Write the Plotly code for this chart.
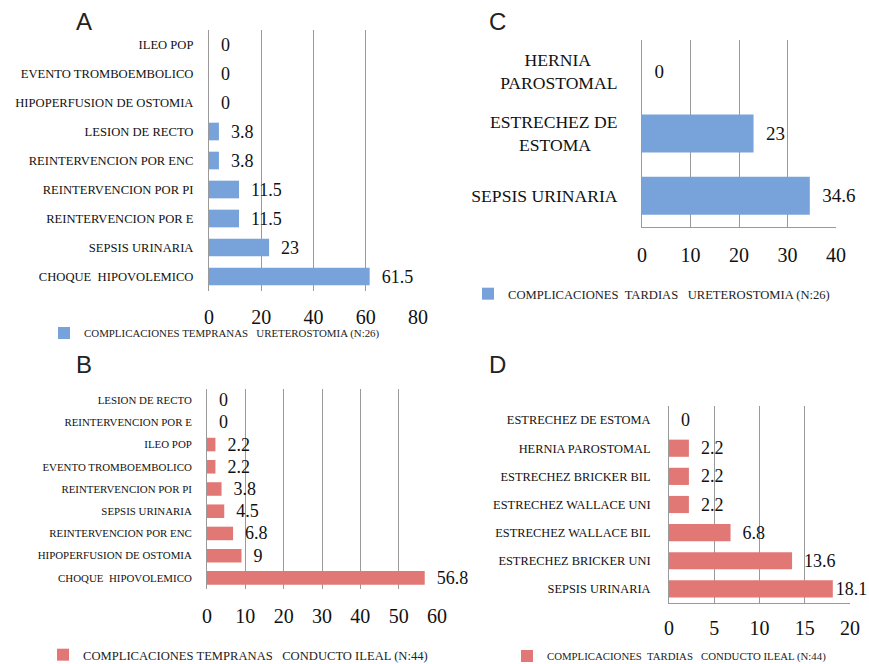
import plotly.graph_objects as go

NB = "\u00a0"

# ---- Data (top-to-bottom order as shown) ----
a_cats = ["ILEO POP", "EVENTO TROMBOEMBOLICO", "HIPOPERFUSION DE OSTOMIA", "LESION DE RECTO",
          "REINTERVENCION POR ENC", "REINTERVENCION POR PI", "REINTERVENCION POR E",
          "SEPSIS URINARIA", "CHOQUE" + NB + " HIPOVOLEMICO"]
a_vals = [0, 0, 0, 3.8, 3.8, 11.5, 11.5, 23, 61.5]
a_name = "COMPLICACIONES TEMPRANAS" + NB * 2 + " URETEROSTOMIA (N:26)"

b_cats = ["LESION DE RECTO", "REINTERVENCION POR E", "ILEO POP", "EVENTO TROMBOEMBOLICO",
          "REINTERVENCION POR PI", "SEPSIS URINARIA", "REINTERVENCION POR ENC",
          "HIPOPERFUSION DE OSTOMIA", "CHOQUE" + NB + " HIPOVOLEMICO"]
b_vals = [0, 0, 2.2, 2.2, 3.8, 4.5, 6.8, 9, 56.8]
b_name = "COMPLICACIONES TEMPRANAS" + NB * 2 + " CONDUCTO ILEAL (N:44)"

c_cats = ["HERNIA" + NB * 6 + "<br>PAROSTOMAL", "ESTRECHEZ DE<br>ESTOMA" + NB * 6, "SEPSIS URINARIA"]
c_vals = [0, 23, 34.6]
c_name = "COMPLICACIONES" + NB + " TARDIAS" + NB * 2 + " URETEROSTOMIA (N:26)"

d_cats = ["ESTRECHEZ DE ESTOMA", "HERNIA PAROSTOMAL", "ESTRECHEZ BRICKER BIL",
          "ESTRECHEZ WALLACE UNI", "ESTRECHEZ WALLACE BIL", "ESTRECHEZ BRICKER UNI",
          "SEPSIS URINARIA"]
d_vals = [0, 2.2, 2.2, 2.2, 6.8, 13.6, 18.1]
d_name = "COMPLICACIONES" + NB + " TARDIAS" + NB * 2 + " CONDUCTO ILEAL (N:44)"

a_ticks = [0, 20, 40, 60, 80]
b_ticks = [0, 10, 20, 30, 40, 50, 60]
c_ticks = [0, 10, 20, 30, 40]
d_ticks = [0, 5, 10, 15, 20]

BLUE = "#78A3DA"
RED = "#E27876"
SERIF = "Liberation Serif"
W, H = 869, 664

PAD = NB * 2 + "%{x}"

fig = go.Figure()

panels = [
    (a_cats, a_vals, a_name, BLUE, "", "legend", 18, PAD),
    (c_cats, c_vals, c_name, BLUE, "2", "legend2", 19, PAD),
    (b_cats, b_vals, b_name, RED, "3", "legend3", 18, PAD),
    (d_cats, d_vals, d_name, RED, "4", "legend4", 18, [PAD] * 6 + ["%{x}"]),
]

for cats, vals, name, col, sfx, leg, tsz, tt in panels:
    fig.add_trace(go.Bar(
        y=cats, x=vals, orientation="h", name=name,
        marker=dict(color=col, line=dict(width=0)),
        texttemplate=tt, textposition="outside",
        textfont=dict(family=SERIF, size=tsz, color="#111111"),
        constraintext="none", cliponaxis=False,
        xaxis="x" + sfx, yaxis="y" + sfx, legend=leg, showlegend=True,
        hoverinfo="skip",
    ))


def px_dom(x0, x1, y0, y1):
    return [x0 / W, x1 / W], [1 - y1 / H, 1 - y0 / H]


doms = {
    "": px_dom(209, 418, 30, 291),
    "2": px_dom(642, 836, 40, 227),
    "3": px_dom(207, 437, 389, 589),
    "4": px_dom(669, 850, 406, 603),
}
ranges = {"": (a_ticks, 80), "2": (c_ticks, 40), "3": (b_ticks, 60), "4": (d_ticks, 20)}
lab_sizes = {"": 12.6, "2": 17.6, "3": 10.9, "4": 12.4}
ybottom = {"": False, "2": True, "3": False, "4": True}
ystand = {"": 12, "2": 20, "3": 12, "4": 15}
xstand = {"": 12, "2": 10, "3": 13, "4": 7}

GRID = "#9a9a9a"
layout = dict(
    width=W, height=H, margin=dict(l=0, r=0, t=0, b=0, autoexpand=False),
    paper_bgcolor="white", plot_bgcolor="white",
    font=dict(family=SERIF, color="#111111"),
    bargap=0.39,
)
for sfx, (xd, yd) in doms.items():
    ticks, mx = ranges[sfx]
    layout["xaxis" + sfx] = dict(
        domain=xd, anchor="y" + sfx, range=[0, mx], tickvals=ticks,
        showgrid=True, gridcolor=GRID, gridwidth=1, zeroline=False,
        showline=ybottom[sfx], linecolor=GRID, linewidth=1,
        tickfont=dict(family=SERIF, size=20, color="#111111"),
        ticklabelstandoff=xstand[sfx], ticks="", automargin=False, fixedrange=True,
    )
    layout["yaxis" + sfx] = dict(
        domain=yd, anchor="x" + sfx, autorange="reversed", type="category",
        showgrid=False, zeroline=False, showline=True, linecolor=GRID, linewidth=1,
        tickfont=dict(family=SERIF, size=lab_sizes[sfx], color="#111111"),
        ticklabelstandoff=ystand[sfx], ticks="", automargin=False, fixedrange=True,
    )

legends = {
    "legend": (44, 333, 10.9),
    "legend2": (468, 294, 12.6),
    "legend3": (43, 655, 12.6),
    "legend4": (507, 656, 10.8),
}
for key, (lx, ly, fs) in legends.items():
    layout[key] = dict(
        x=lx / W, y=1 - ly / H, xanchor="left", yanchor="middle",
        orientation="h", font=dict(family=SERIF, size=fs, color="#222222"),
        bgcolor="rgba(0,0,0,0)", borderwidth=0, itemwidth=30,
    )

fig.update_layout(**layout)

for letter, (x, y) in {"A": (84, 22), "B": (84, 364), "C": (497, 22), "D": (497, 365)}.items():
    fig.add_annotation(text=letter, x=x / W, y=1 - y / H, xref="paper", yref="paper",
                       showarrow=False, xanchor="center", yanchor="middle",
                       font=dict(family="Liberation Sans", size=24, color="#222222"))

fig.write_html(
    "out.html",
    config={"displayModeBar": False},
    post_script="document.body.style.margin='0px';document.body.style.overflow='hidden';",
)
